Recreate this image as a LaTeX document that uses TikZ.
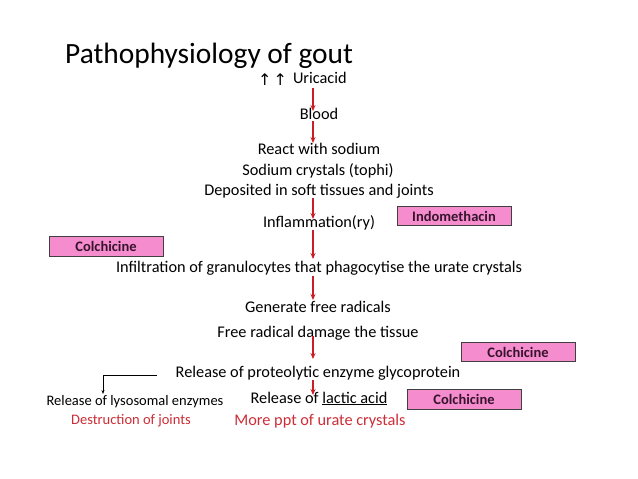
\documentclass[tikz,border=0pt]{standalone}
\usepackage{fontspec}
\setmainfont{Carlito}
\newfontfamily\symfont{DejaVu Sans}
\usetikzlibrary{arrows.meta,calc}
\definecolor{arrred}{RGB}{200,30,40}
\definecolor{txtred}{RGB}{205,45,55}
\definecolor{boxpink}{RGB}{245,140,205}
\definecolor{boxtxt}{RGB}{55,20,45}
\begin{document}
\begin{tikzpicture}[x=1pt,y=-1pt,
  txt/.style={anchor=base,inner sep=0pt,font=\fontsize{16.3}{18}\selectfont},
  small/.style={anchor=base,inner sep=0pt,font=\fontsize{14.5}{16}\selectfont},
  drug/.style={draw=black!75,fill=boxpink,line width=0.7pt,minimum width=114pt,minimum height=19.5pt,inner sep=0pt,font=\fontsize{14.5}{16}\selectfont\bfseries,text=boxtxt},
  flow/.style={draw=arrred,line width=1.1pt,-{Stealth[length=6pt,width=5pt]}},
  elbowline/.style={draw=black,line width=0.7pt,-{Stealth[length=4pt,width=3pt]}}]
\useasboundingbox[fill=white] (0,0) rectangle (638,479);
\coordinate (ax) at (313,0);
\node[anchor=base west,inner sep=0pt,font=\fontsize{29.4}{32}\selectfont] (title) at (65,63) {Pathophysiology of gout};
\node[txt,anchor=base west] (uric) at (258,85) {{\symfont\fontsize{16}{18}\selectfont ↑\hspace{2pt}↑}\hspace{6pt}\raisebox{2pt}{Uricacid}};
\node[txt] (blood) at (319,119) {Blood};
\node[txt] (react) at (319,154) {React with sodium};
\node[txt] (sodium) at (318,175) {Sodium crystals (tophi)};
\node[txt] (depo) at (319,195) {Deposited in soft tissues and joints};
\node[txt] (infl) at (319,227) {Inflammation(ry)};
\node[txt] (infil) at (319,272) {Infiltration of granulocytes that phagocytise the urate crystals};
\node[txt] (gen) at (318,312) {Generate free radicals};
\node[txt] (dmg) at (318,337) {Free radical damage the tissue};
\node[txt] (prot) at (318,377) {Release of proteolytic enzyme glycoprotein};
\node[txt] (lactic) at (319,403) {Release of \underline{lactic acid}};
\node[txt,text=txtred] (ppt) at (320,425) {More ppt of urate crystals};
\node[small] (lyso) at (135,405) {Release of lysosomal enzymes};
\node[small,text=txtred] (joints) at (131,424) {Destruction of joints};
\node[drug] (indo) at (454,216) {Indomethacin};
\node[drug] (colA) at (106,246.5) {Colchicine};
\node[drug] (colB) at (518,352) {Colchicine};
\node[drug] (colC) at (464,399.5) {Colchicine};
\draw[flow] ($(uric.base -| ax)+(0,3)$) -- ($(blood.base -| ax)+(0,-8)$);
\draw[flow] ($(blood.base -| ax)+(0,2)$) -- ($(react.base -| ax)+(0,-11)$);
\draw[flow] ($(depo.base -| ax)+(0,3)$) -- ($(infl.base -| ax)+(0,-8)$);
\draw[flow] ($(infl.base -| ax)+(0,3)$) -- ($(infil.base -| ax)+(0,-13)$);
\draw[flow] ($(infil.base -| ax)+(0,4)$) -- ($(gen.base -| ax)+(0,-12)$);
\draw[flow] ($(dmg.base -| ax)+(0,-1)$) -- ($(prot.base -| ax)+(0,-18)$);
\draw[flow] ($(prot.base -| ax)+(0,3)$) -- ($(lactic.base -| ax)+(0,-8)$);
\coordinate (eA) at (157,375);
\coordinate (eB) at (103,394);
\draw[elbowline] (eA) -| (eB);
\end{tikzpicture}
\end{document}
